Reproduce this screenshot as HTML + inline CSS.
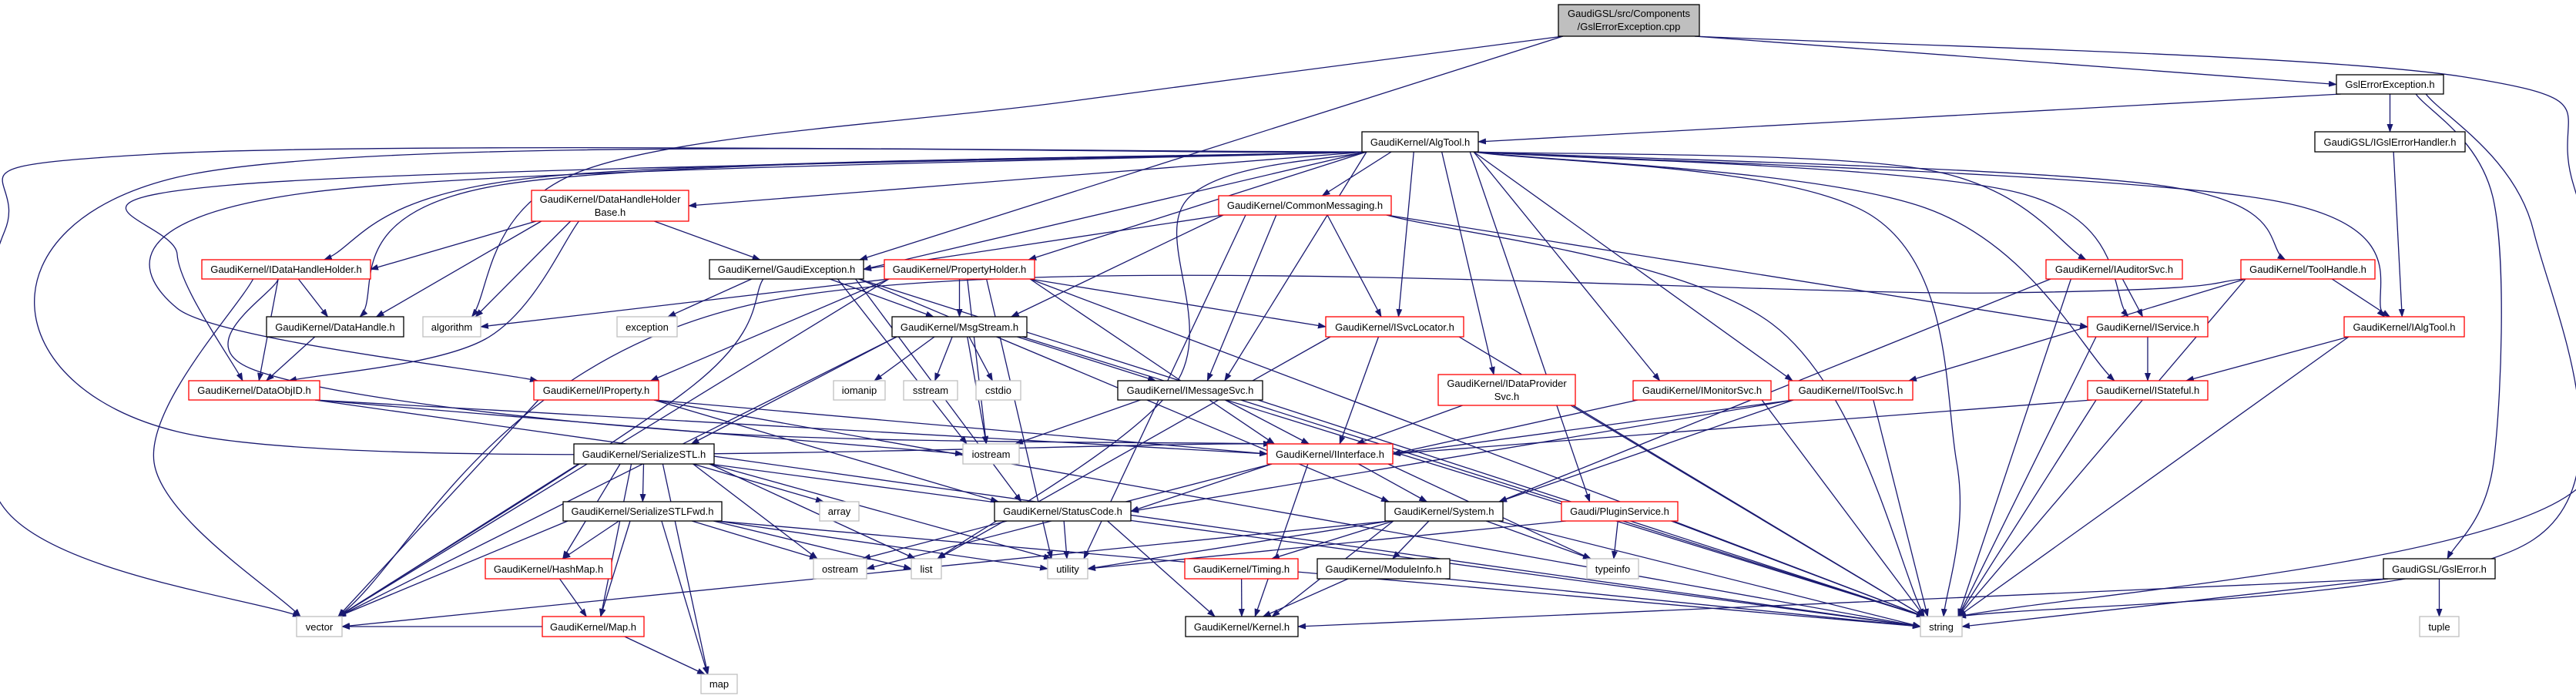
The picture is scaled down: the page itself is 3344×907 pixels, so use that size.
<!DOCTYPE html>
<html><head><meta charset="utf-8"><style>
html,body{margin:0;padding:0;background:#fff;}
svg{display:block;}
text{font-family:"Liberation Sans",Arial,sans-serif;font-size:13px;fill:#000;}
</style></head><body>
<svg id="g" width="3344" height="907" viewBox="0 0 3344 907" xmlns="http://www.w3.org/2000/svg">
<defs><marker id="ah" markerWidth="11" markerHeight="8" refX="10" refY="4" orient="auto" markerUnits="userSpaceOnUse"><path d="M0,0 L11,4 L0,8 z" fill="#191970"/></marker></defs>
<g id="edges" fill="none" stroke="#191970" stroke-width="1.3"></g>
<g id="nodes">
<rect x="2023" y="6" width="183" height="41" fill="#bfbfbf" stroke="#000" stroke-width="1.3"/><text x="2114.5" y="22" text-anchor="middle">GaudiGSL/src/Components</text><text x="2114.5" y="39" text-anchor="middle">/GslErrorException.cpp</text>
<rect x="3033" y="97" width="139" height="25" fill="#fff" stroke="#000" stroke-width="1.3"/><text x="3102.5" y="114" text-anchor="middle">GslErrorException.h</text>
<rect x="1768" y="171" width="151" height="26" fill="#fff" stroke="#000" stroke-width="1.3"/><text x="1843.5" y="189" text-anchor="middle">GaudiKernel/AlgTool.h</text>
<rect x="3005" y="171" width="195" height="26" fill="#fff" stroke="#000" stroke-width="1.3"/><text x="3102.5" y="189" text-anchor="middle">GaudiGSL/IGslErrorHandler.h</text>
<rect x="690" y="247" width="204" height="40" fill="#fff" stroke="#f00" stroke-width="1.3"/><text x="792" y="263" text-anchor="middle">GaudiKernel/DataHandleHolder</text><text x="792" y="280" text-anchor="middle">Base.h</text>
<rect x="1582" y="254" width="224" height="25" fill="#fff" stroke="#f00" stroke-width="1.3"/><text x="1694" y="271" text-anchor="middle">GaudiKernel/CommonMessaging.h</text>
<rect x="262" y="337" width="219" height="25" fill="#fff" stroke="#f00" stroke-width="1.3"/><text x="371.5" y="354" text-anchor="middle">GaudiKernel/IDataHandleHolder.h</text>
<rect x="921" y="337" width="200" height="25" fill="#fff" stroke="#000" stroke-width="1.3"/><text x="1021" y="354" text-anchor="middle">GaudiKernel/GaudiException.h</text>
<rect x="1148" y="337" width="195" height="25" fill="#fff" stroke="#f00" stroke-width="1.3"/><text x="1245.5" y="354" text-anchor="middle">GaudiKernel/PropertyHolder.h</text>
<rect x="2656" y="337" width="177" height="25" fill="#fff" stroke="#f00" stroke-width="1.3"/><text x="2744.5" y="354" text-anchor="middle">GaudiKernel/IAuditorSvc.h</text>
<rect x="2909" y="337" width="174" height="25" fill="#fff" stroke="#f00" stroke-width="1.3"/><text x="2996" y="354" text-anchor="middle">GaudiKernel/ToolHandle.h</text>
<rect x="346" y="411" width="178" height="26" fill="#fff" stroke="#000" stroke-width="1.3"/><text x="435" y="429" text-anchor="middle">GaudiKernel/DataHandle.h</text>
<rect x="549" y="411" width="75" height="26" fill="#fff" stroke="#bfbfbf" stroke-width="1.3"/><text x="586.5" y="429" text-anchor="middle">algorithm</text>
<rect x="801" y="411" width="78" height="26" fill="#fff" stroke="#bfbfbf" stroke-width="1.3"/><text x="840" y="429" text-anchor="middle">exception</text>
<rect x="1158" y="411" width="175" height="26" fill="#fff" stroke="#000" stroke-width="1.3"/><text x="1245.5" y="429" text-anchor="middle">GaudiKernel/MsgStream.h</text>
<rect x="1721" y="411" width="179" height="26" fill="#fff" stroke="#f00" stroke-width="1.3"/><text x="1810.5" y="429" text-anchor="middle">GaudiKernel/ISvcLocator.h</text>
<rect x="2710" y="411" width="156" height="26" fill="#fff" stroke="#f00" stroke-width="1.3"/><text x="2788" y="429" text-anchor="middle">GaudiKernel/IService.h</text>
<rect x="3043" y="411" width="156" height="26" fill="#fff" stroke="#f00" stroke-width="1.3"/><text x="3121" y="429" text-anchor="middle">GaudiKernel/IAlgTool.h</text>
<rect x="245" y="494" width="170" height="25" fill="#fff" stroke="#f00" stroke-width="1.3"/><text x="330" y="511" text-anchor="middle">GaudiKernel/DataObjID.h</text>
<rect x="693" y="494" width="162" height="25" fill="#fff" stroke="#f00" stroke-width="1.3"/><text x="774" y="511" text-anchor="middle">GaudiKernel/IProperty.h</text>
<rect x="1082" y="494" width="67" height="25" fill="#fff" stroke="#bfbfbf" stroke-width="1.3"/><text x="1115.5" y="511" text-anchor="middle">iomanip</text>
<rect x="1173" y="494" width="70" height="25" fill="#fff" stroke="#bfbfbf" stroke-width="1.3"/><text x="1208" y="511" text-anchor="middle">sstream</text>
<rect x="1267" y="494" width="58" height="25" fill="#fff" stroke="#bfbfbf" stroke-width="1.3"/><text x="1296" y="511" text-anchor="middle">cstdio</text>
<rect x="1451" y="494" width="188" height="25" fill="#fff" stroke="#000" stroke-width="1.3"/><text x="1545" y="511" text-anchor="middle">GaudiKernel/IMessageSvc.h</text>
<rect x="1867" y="486" width="178" height="40" fill="#fff" stroke="#f00" stroke-width="1.3"/><text x="1956" y="502" text-anchor="middle">GaudiKernel/IDataProvider</text><text x="1956" y="519" text-anchor="middle">Svc.h</text>
<rect x="2120" y="494" width="179" height="25" fill="#fff" stroke="#f00" stroke-width="1.3"/><text x="2209.5" y="511" text-anchor="middle">GaudiKernel/IMonitorSvc.h</text>
<rect x="2322" y="494" width="161" height="25" fill="#fff" stroke="#f00" stroke-width="1.3"/><text x="2402.5" y="511" text-anchor="middle">GaudiKernel/IToolSvc.h</text>
<rect x="2710" y="494" width="156" height="25" fill="#fff" stroke="#f00" stroke-width="1.3"/><text x="2788" y="511" text-anchor="middle">GaudiKernel/IStateful.h</text>
<rect x="745" y="576" width="182" height="26" fill="#fff" stroke="#000" stroke-width="1.3"/><text x="836" y="594" text-anchor="middle">GaudiKernel/SerializeSTL.h</text>
<rect x="1250" y="576" width="73" height="26" fill="#fff" stroke="#bfbfbf" stroke-width="1.3"/><text x="1286.5" y="594" text-anchor="middle">iostream</text>
<rect x="1645" y="576" width="163" height="26" fill="#fff" stroke="#f00" stroke-width="1.3"/><text x="1726.5" y="594" text-anchor="middle">GaudiKernel/IInterface.h</text>
<rect x="731" y="651" width="206" height="25" fill="#fff" stroke="#000" stroke-width="1.3"/><text x="834" y="668" text-anchor="middle">GaudiKernel/SerializeSTLFwd.h</text>
<rect x="1064" y="651" width="51" height="25" fill="#fff" stroke="#bfbfbf" stroke-width="1.3"/><text x="1089.5" y="668" text-anchor="middle">array</text>
<rect x="1291" y="651" width="177" height="25" fill="#fff" stroke="#000" stroke-width="1.3"/><text x="1379.5" y="668" text-anchor="middle">GaudiKernel/StatusCode.h</text>
<rect x="1798" y="651" width="153" height="25" fill="#fff" stroke="#000" stroke-width="1.3"/><text x="1874.5" y="668" text-anchor="middle">GaudiKernel/System.h</text>
<rect x="2027" y="651" width="151" height="25" fill="#fff" stroke="#f00" stroke-width="1.3"/><text x="2102.5" y="668" text-anchor="middle">Gaudi/PluginService.h</text>
<rect x="630" y="725" width="164" height="26" fill="#fff" stroke="#f00" stroke-width="1.3"/><text x="712" y="743" text-anchor="middle">GaudiKernel/HashMap.h</text>
<rect x="1056" y="725" width="69" height="26" fill="#fff" stroke="#bfbfbf" stroke-width="1.3"/><text x="1090.5" y="743" text-anchor="middle">ostream</text>
<rect x="1183" y="725" width="39" height="26" fill="#fff" stroke="#bfbfbf" stroke-width="1.3"/><text x="1202.5" y="743" text-anchor="middle">list</text>
<rect x="1360" y="725" width="52" height="26" fill="#fff" stroke="#bfbfbf" stroke-width="1.3"/><text x="1386" y="743" text-anchor="middle">utility</text>
<rect x="1538" y="725" width="147" height="26" fill="#fff" stroke="#f00" stroke-width="1.3"/><text x="1611.5" y="743" text-anchor="middle">GaudiKernel/Timing.h</text>
<rect x="1710" y="725" width="172" height="26" fill="#fff" stroke="#000" stroke-width="1.3"/><text x="1796" y="743" text-anchor="middle">GaudiKernel/ModuleInfo.h</text>
<rect x="2060" y="725" width="67" height="26" fill="#fff" stroke="#bfbfbf" stroke-width="1.3"/><text x="2093.5" y="743" text-anchor="middle">typeinfo</text>
<rect x="3094" y="725" width="145" height="26" fill="#fff" stroke="#000" stroke-width="1.3"/><text x="3166.5" y="743" text-anchor="middle">GaudiGSL/GslError.h</text>
<rect x="385" y="800" width="59" height="26" fill="#fff" stroke="#bfbfbf" stroke-width="1.3"/><text x="414.5" y="818" text-anchor="middle">vector</text>
<rect x="704" y="800" width="132" height="26" fill="#fff" stroke="#f00" stroke-width="1.3"/><text x="770" y="818" text-anchor="middle">GaudiKernel/Map.h</text>
<rect x="1539" y="800" width="146" height="26" fill="#fff" stroke="#000" stroke-width="1.3"/><text x="1612" y="818" text-anchor="middle">GaudiKernel/Kernel.h</text>
<rect x="2493" y="800" width="54" height="26" fill="#fff" stroke="#bfbfbf" stroke-width="1.3"/><text x="2520" y="818" text-anchor="middle">string</text>
<rect x="3141" y="800" width="51" height="26" fill="#fff" stroke="#bfbfbf" stroke-width="1.3"/><text x="3166.5" y="818" text-anchor="middle">tuple</text>
<rect x="910" y="875" width="47" height="25" fill="#fff" stroke="#bfbfbf" stroke-width="1.3"/><text x="933.5" y="892" text-anchor="middle">map</text>
</g>
</svg>
<script>
var N={cpp:[2023,6,2206,47],GEH:[3033,97,3172,122],AT:[1768,171,1919,197],IGEH:[3005,171,3200,197],
DHHB:[690,247,894,287],CM:[1582,254,1806,279],IDHH:[262,337,481,362],GE:[921,337,1121,362],PH:[1148,337,1343,362],
IAud:[2656,337,2833,362],TH:[2909,337,3083,362],DH:[346,411,524,437],alg:[549,411,624,437],exc:[801,411,879,437],
MS:[1158,411,1333,437],ISL:[1721,411,1900,437],IServ:[2710,411,2866,437],IAT:[3043,411,3199,437],
DOID:[245,494,415,519],IProp:[693,494,855,519],iom:[1082,494,1149,519],sst:[1173,494,1243,519],cst:[1267,494,1325,519],
IMS:[1451,494,1639,519],IDPS:[1867,486,2045,526],IMon:[2120,494,2299,519],ITS:[2322,494,2483,519],IStat:[2710,494,2866,519],
SSTL:[745,576,927,602],ios:[1250,576,1323,602],II:[1645,576,1808,602],SSTLF:[731,651,937,676],arr:[1064,651,1115,676],
SC:[1291,651,1468,676],Sys:[1798,651,1951,676],PS:[2027,651,2178,676],HM:[630,725,794,751],ost:[1056,725,1125,751],
list:[1183,725,1222,751],util:[1360,725,1412,751],Tim:[1538,725,1685,751],MI:[1710,725,1882,751],tinfo:[2060,725,2127,751],
GSE:[3094,725,3239,751],vec:[385,800,444,826],Map:[704,800,836,826],Kern:[1539,800,1685,826],str:[2493,800,2547,826],
tup:[3141,800,3192,826],map:[910,875,957,900]};
var E=[
['cpp','alg',[[1400,130],[760,220]]],['cpp','GE'],['cpp','GEH'],['cpp','str',[[3200,100],[3338,230],[3338,640]]],
['GEH','AT'],['GEH','IGEH'],['GEH','GSE',[[3237,260],[3237,600]]],['GEH','str',[[3289,300],[3289,700]]],
['IGEH','IAT'],
['AT','DHHB'],['AT','IDHH',[[700,230]]],['AT','DH',[[650,240]]],['AT','DOID',[[300,240],[230,330]]],
['AT','vec',[[200,200],[6,300],[6,660]]],['AT','CM'],['AT','PH'],['AT','IProp',[[400,250],[230,400]]],['AT','GE'],
['AT','ISL'],['AT','IMS'],['AT','II',[[230,230],[230,560]]],['AT','IDPS'],['AT','IMon'],['AT','ITS'],['AT','IServ',[[2620,250]]],
['AT','IAud',[[2500,220]]],['AT','TH',[[2800,240]]],['AT','IAT',[[2950,260]]],['AT','IStat',[[2500,270]]],['AT','PS'],
['AT','str',[[2430,280],[2540,600]]],['AT','list',[[1540,260],[1525,500]]],
['DHHB','IDHH'],['DHHB','DH'],['DHHB','alg'],['DHHB','DOID',[[630,440]]],['DHHB','GE'],
['IDHH','DH'],['IDHH','DOID'],['IDHH','vec',[[200,600]]],['IDHH','II',[[330,480],[900,560]]],
['DH','DOID'],
['CM','GE'],['CM','MS'],['CM','IMS'],['CM','ISL'],['CM','IServ'],['CM','util'],['CM','str',[[2300,420]]],
['GE','exc'],['GE','MS'],['GE','ios'],['GE','SC'],['GE','Sys'],['GE','str'],['GE','vec',[[900,500]]],
['PH','alg'],['PH','MS'],['PH','IProp'],['PH','ISL'],['PH','str'],['PH','util'],['PH','vec'],['PH','ios'],['PH','II'],
['MS','iom'],['MS','sst'],['MS','cst'],['MS','IMS'],['MS','SSTL'],['MS','ios'],['MS','str'],['MS','vec'],
['ISL','II'],['ISL','list'],['ISL','str'],
['IAud','IServ'],['IAud','Sys'],['IAud','str'],
['TH','IAT'],['TH','ITS'],['TH','str'],['TH','vec',[[2600,380],[1000,390]]],
['IServ','IStat'],['IServ','str'],['IAT','IStat'],['IAT','str'],['IStat','II'],['IStat','str'],
['DOID','str'],['DOID','ios'],['DOID','II'],
['IProp','SC'],['IProp','str'],['IProp','vec'],['IProp','II'],
['IMS','ios'],['IMS','II'],['IMS','str'],['IDPS','II'],['IDPS','str'],['IMon','II'],['IMon','str'],
['ITS','II'],['ITS','Sys'],['ITS','SC'],['ITS','str'],
['SSTL','SSTLF'],['SSTL','arr'],['SSTL','ost'],['SSTL','vec'],['SSTL','list'],['SSTL','map'],['SSTL','HM'],['SSTL','Map'],['SSTL','util'],['SSTL','str'],
['II','SC'],['II','Sys'],['II','tinfo'],['II','ost'],['II','Kern'],
['SSTLF','HM'],['SSTLF','Map'],['SSTLF','vec'],['SSTLF','list'],['SSTLF','map'],['SSTLF','ost'],['SSTLF','str'],['SSTLF','util'],
['HM','Map'],['Map','map'],['Map','vec'],
['SC','Kern'],['SC','util'],['SC','ost'],
['Sys','Tim'],['Sys','MI'],['Sys','tinfo'],['Sys','Kern'],['Sys','str'],['Sys','vec'],['Sys','util'],
['PS','tinfo'],['PS','str'],['PS','util'],['Tim','Kern'],['MI','Kern'],['MI','str'],
['GSE','str'],['GSE','tup'],['GSE','Kern']];
function cat(p){var d='M'+p[0][0]+','+p[0][1];
 for(var i=0;i<p.length-1;i++){var p0=p[i-1]||p[i],p1=p[i],p2=p[i+1],p3=p[i+2]||p2;
  d+=' C'+(p1[0]+(p2[0]-p0[0])/6)+','+(p1[1]+(p2[1]-p0[1])/6)+' '+(p2[0]-(p3[0]-p1[0])/6)+','+(p2[1]-(p3[1]-p1[1])/6)+' '+p2[0]+','+p2[1];}
 return d;}
var g=document.getElementById('edges'),s='';
E.forEach(function(e){var a=N[e[0]],b=N[e[1]],v=e[2]||[];
 var acx=(a[0]+a[2])/2,bcx=(b[0]+b[2])/2,s1,t1;
 if(b[1]>=a[3]-2){
  var first=v.length?v[0]:[bcx,b[1]];
  var sx=acx+(first[0]-acx)*0.25; sx=Math.max(a[0]+6,Math.min(a[2]-6,sx));
  var last=v.length?v[v.length-1]:[acx,a[3]];
  var tx=bcx+(last[0]-bcx)*0.15; tx=Math.max(b[0]+5,Math.min(b[2]-5,tx));
  s1=[sx,a[3]]; t1=[tx,b[1]];
  if(Math.abs(tx-sx)>4*(b[1]-a[3])&&!v.length){ // shallow: enter side
   var ty=(b[1]+b[3])/2; t1=[tx>sx?b[0]:b[2],ty]; if(tx<=sx)t1=[b[2],ty]; else t1=[b[0],ty];
   if(Math.abs(tx-sx)>4*(b[1]-a[3])) { s1=[sx,a[3]]; }
  }
 } else {s1=[a[0],(a[1]+a[3])/2]; t1=[b[2],(b[1]+b[3])/2]; if(bcx>acx){s1=[a[2],s1[1]];t1=[b[0],t1[1]];}}
 var pts=[s1].concat(v).concat([t1]);
 if(pts.length==2){var dy=(t1[1]-s1[1]);pts=[s1,[s1[0]+(t1[0]-s1[0])*0.35,s1[1]+dy*0.4],[s1[0]+(t1[0]-s1[0])*0.7,s1[1]+dy*0.75],t1];
  s+='<path d="M'+s1[0]+','+s1[1]+' L'+t1[0]+','+t1[1]+'" marker-end="url(#ah)"/>';}
 else s+='<path d="'+cat(pts)+'" marker-end="url(#ah)"/>';
});
g.innerHTML=s;
</script>
</body></html>
